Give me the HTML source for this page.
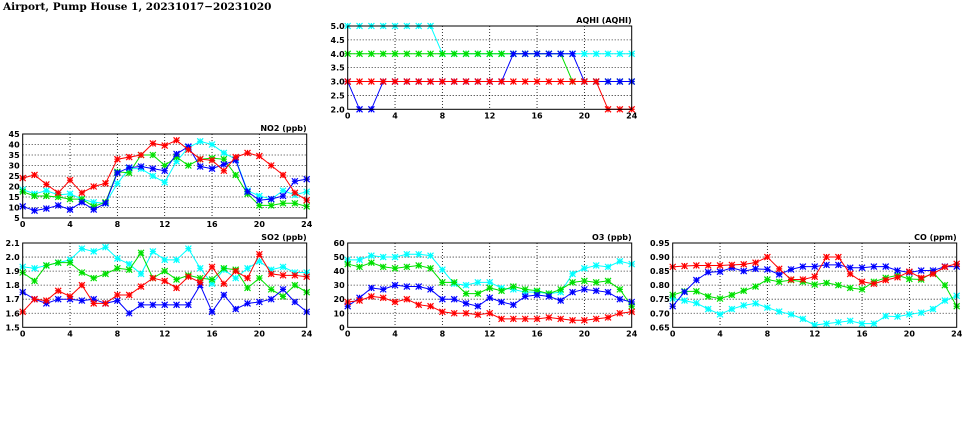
<!DOCTYPE html>
<html><head><meta charset="utf-8"><style>
body{margin:0;background:#fff;width:975px;height:447px;overflow:hidden}
svg{display:block}
text{font-family:"DejaVu Sans","Liberation Sans",sans-serif;font-weight:bold;font-size:8px;fill:#000}
</style></head><body>
<svg id="chart" width="975" height="447" viewBox="0 0 975 447">
<text x="3" y="10" style="font-family:'DejaVu Serif','Liberation Serif',serif;font-size:10.5px;font-weight:bold">Airport, Pump House 1, 20231017−20231020</text>
</svg>
<script>
const hours = [0,1,2,3,4,5,6,7,8,9,10,11,12,13,14,15,16,17,18,19,20,21,22,23,24];
const xTickLabels = ['0','4','8','12','16','20','24'];
const seriesColors = ['#00ffff','#00e000','#0000ff','#ff0000'];

const aqhiTicks = ['2.0','2.5','3.0','3.5','4.0','4.5','5.0'];
const aqhiCyan  = [5,5,5,5,5,5,5,5,4,4,4,4,4,4,4,4,4,4,4,4,4,4,4,4,4];
const aqhiGreen = [4,4,4,4,4,4,4,4,4,4,4,4,4,4,4,4,4,4,4,3,3,3,3,3,3];
const aqhiBlue  = [3,2,2,3,3,3,3,3,3,3,3,3,3,3,4,4,4,4,4,4,3,3,3,3,3];
const aqhiRed   = [3,3,3,3,3,3,3,3,3,3,3,3,3,3,3,3,3,3,3,3,3,3,2,2,2];

const no2Ticks = ['5','10','15','20','25','30','35','40','45'];
const no2Cyan  = [18.5,16.5,18,16,16.5,14,12.5,12,21.5,28.5,28.5,25,22,32,38.5,41.5,40,36,33,18,15.5,14,18,16,17.5];
const no2Green = [17.5,15.5,15.5,15,14,14,10.5,12.5,27,26.5,35,35,30,34,30,33,33.5,33,25.5,16.5,11,11,12,12,10.5];
const no2Blue  = [10.5,8.5,9.5,11,9,12.5,9,12,26.5,29,29.5,28.5,27.5,35.5,39,29.5,28.5,30.5,32.5,17.5,13.5,14,15.5,22.5,23.5];
const no2Red   = [24,25.5,21,17,23,17,20,21.5,33,34,35,40.5,39.5,42,37.5,33,32.5,27.5,34,36,34.5,30,25.5,17,13.5];

const so2Ticks = ['1.5','1.6','1.7','1.8','1.9','2.0','2.1'];
const so2Cyan  = [1.93,1.92,1.94,1.96,1.98,2.06,2.04,2.07,1.99,1.95,1.88,2.04,1.98,1.98,2.06,1.92,1.81,1.91,1.85,1.92,1.97,1.91,1.93,1.89,1.89];
const so2Green = [1.89,1.83,1.94,1.96,1.96,1.89,1.85,1.88,1.92,1.91,2.03,1.85,1.90,1.84,1.87,1.85,1.84,1.92,1.91,1.78,1.85,1.77,1.72,1.80,1.75];
const so2Blue  = [1.75,1.70,1.67,1.70,1.70,1.69,1.70,1.67,1.69,1.60,1.66,1.66,1.66,1.66,1.66,1.80,1.61,1.73,1.63,1.67,1.68,1.70,1.77,1.68,1.61];
const so2Red   = [1.61,1.70,1.69,1.76,1.72,1.80,1.67,1.67,1.73,1.73,1.79,1.85,1.83,1.78,1.86,1.82,1.93,1.81,1.90,1.85,2.02,1.88,1.87,1.87,1.86];

const o3Ticks = ['0','10','20','30','40','50','60'];
const o3Cyan  = [48,48,51,50,50,52,52,51,41,31,30,32,32,28,27,25,25,24,25,38,42,44,43,47,45];
const o3Green = [45,43,46,43,42,43,44,42,32,32,24,24,28,26,29,27,26,24,27,32,33,32,33,27,15];
const o3Blue  = [15,21,28,27,30,29,29,27,20,20,17,15,21,18,16,22,23,22,19,25,27,26,25,20,18];
const o3Red   = [18,19,22,21,18,20,16,15,11,10,10,9,10,6,6,6,6,7,6,5,5,6,7,10,11];

const coTicks = ['0.65','0.70','0.75','0.80','0.85','0.90','0.95'];
const coCyan  = [.752,.745,.736,.715,.696,.715,.728,.735,.720,.706,.696,.680,.658,.663,.668,.673,.663,.663,.690,.688,.696,.702,.715,.745,.762];
const coGreen = [.765,.778,.778,.760,.752,.765,.780,.795,.820,.812,.818,.812,.802,.808,.800,.790,.785,.812,.826,.835,.822,.820,.845,.800,.725];
const coBlue  = [.725,.776,.818,.846,.848,.862,.850,.858,.856,.838,.856,.866,.866,.872,.872,.862,.862,.866,.866,.852,.845,.852,.852,.866,.866];
const coRed   = [.865,.868,.870,.870,.870,.872,.874,.880,.900,.858,.820,.820,.830,.900,.900,.840,.812,.805,.818,.828,.848,.826,.840,.865,.876];

const NS='http://www.w3.org/2000/svg';
const svg=document.getElementById('chart');
function mk(tag,attrs,parent){const e=document.createElementNS(NS,tag);for(const k in attrs)e.setAttribute(k,attrs[k]);(parent||svg).appendChild(e);return e;}

function panel(name,title,box,ticks,series){
  const g=mk('g',{});
  
  
  const ymin=parseFloat(ticks[0]), ymax=parseFloat(ticks[ticks.length-1]);
  const xs=h=>box.l+(h-0)/24*(box.r-box.l);
  const ys=v=>box.b-(v-ymin)/(ymax-ymin)*(box.b-box.t);
  ticks.forEach((t,i)=>{
    const y=ys(parseFloat(t));
    if(i>0&&i<ticks.length-1){const gl=mk('line',{x1:box.l,x2:box.r,y1:y,y2:y,stroke:'#000','stroke-width':0.8,'stroke-dasharray':'1,2'},g);
      
      }
    const tx=mk('text',{x:box.l-3,y:y+3,'text-anchor':'end'},g);tx.textContent=t;
    
    
  });
  xTickLabels.forEach((t,i)=>{
    const x=xs(parseFloat(t));
    if(i>0&&i<xTickLabels.length-1){const gl=mk('line',{x1:x,x2:x,y1:box.t,y2:box.b,stroke:'#000','stroke-width':0.8,'stroke-dasharray':'1,2'},g);
      
      }
    const tx=mk('text',{x:x,y:box.b+9,'text-anchor':'middle'},g);tx.textContent=t;
    
    
  });
  series.forEach((s,si)=>{
    const c=seriesColors[si];
    const pts=s.map((v,i)=>xs(hours[i])+','+ys(v)).join(' ');
    const pl=mk('polyline',{points:pts,fill:'none',stroke:c,'stroke-width':1},g);
    
    
    s.forEach((v,i)=>{
      const x=xs(hours[i]),y=ys(v),r=3;
      const m=mk('path',{d:`M${x-r},${y-r}L${x+r},${y+r}M${x-r},${y+r}L${x+r},${y-r}M${x},${y-r}L${x},${y+r}M${x-r},${y}L${x+r},${y}`,stroke:c,'stroke-width':1.2,fill:'none'},g);
      
      
    });
  });
  const fr=mk('rect',{x:box.l,y:box.t,width:box.r-box.l,height:box.b-box.t,fill:'none',stroke:'#000','stroke-width':1},g);
  
  
  const tt=mk('text',{x:box.r,y:box.t-3,'text-anchor':'end'},g);tt.textContent=title;
  
  
}
panel('aqhi','AQHI (AQHI)',{l:347.7,r:631.7,t:26,b:109.3},aqhiTicks,[aqhiCyan,aqhiGreen,aqhiBlue,aqhiRed]);
panel('no2','NO2 (ppb)',{l:22.7,r:306.7,t:134,b:218},no2Ticks,[no2Cyan,no2Green,no2Blue,no2Red]);
panel('so2','SO2 (ppb)',{l:22.7,r:306.7,t:243,b:327.3},so2Ticks,[so2Cyan,so2Green,so2Blue,so2Red]);
panel('o3','O3 (ppb)',{l:347.7,r:631.7,t:243,b:327.3},o3Ticks,[o3Cyan,o3Green,o3Blue,o3Red]);
panel('co','CO (ppm)',{l:672.7,r:956.7,t:243,b:327.3},coTicks,[coCyan,coGreen,coBlue,coRed]);
</script>
</body></html>
